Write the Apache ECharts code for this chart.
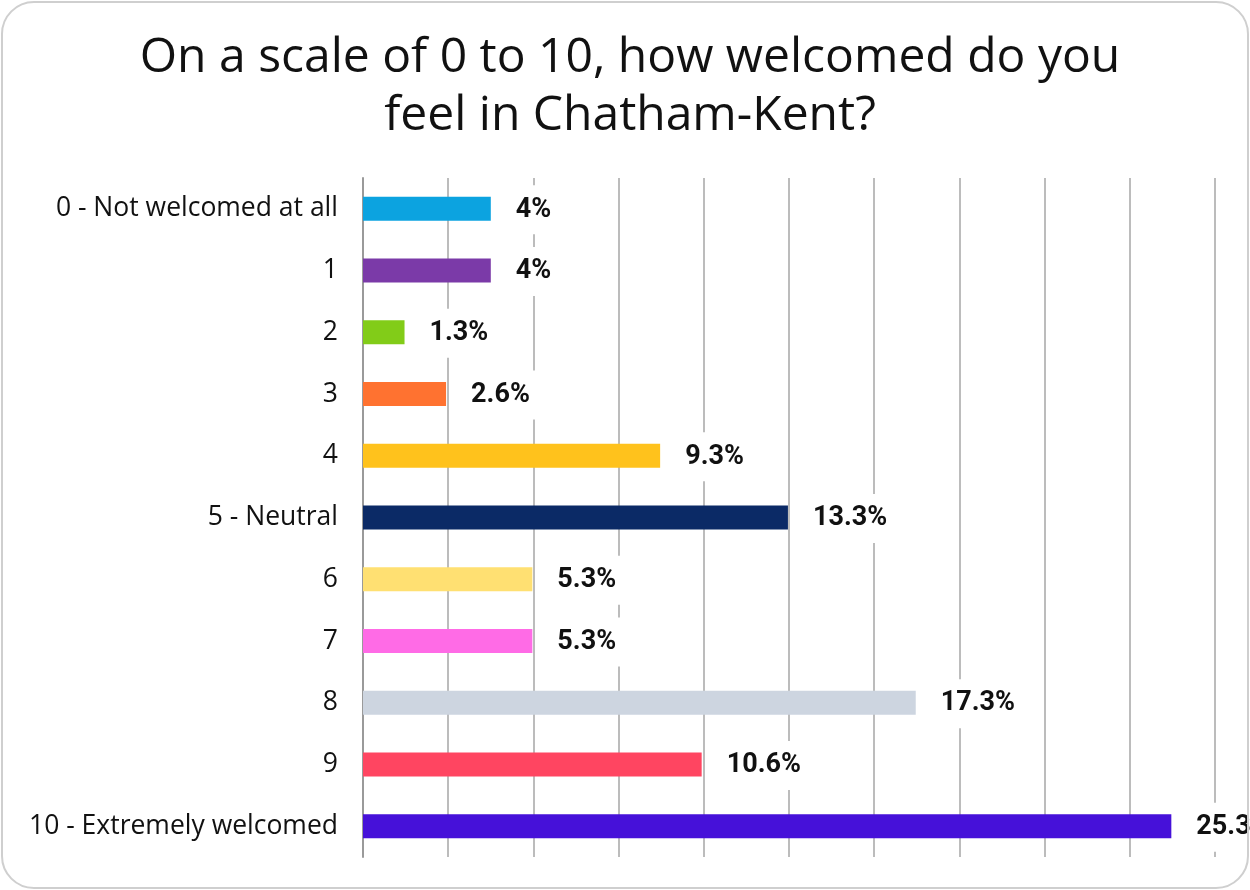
<!DOCTYPE html>
<html>
<head>
<meta charset="utf-8">
<script src="https://cdn.jsdelivr.net/npm/echarts@6/dist/echarts.min.js"></script>
<style>
  html, body { margin: 0; padding: 0; background: #fff; }
  #chart { width: 1250px; height: 890px; }
</style>
</head>
<body>
<div id="chart"></div>
<script>
// Survey answers (share of respondents, %)
const categories = [
  '0 - Not welcomed at all', '1', '2', '3', '4', '5 - Neutral',
  '6', '7', '8', '9', '10 - Extremely welcomed'
];
const percentages = [4, 4, 1.3, 2.6, 9.3, 13.3, 5.3, 5.3, 17.3, 10.6, 25.3];
const barColors = [
  '#0ca3e0', '#7b3aa8', '#82cc18', '#ff7230', '#ffc21c', '#0b2a66',
  '#ffe072', '#ff6be6', '#cdd5e0', '#ff4561', '#4611d9'
];
const titleText = 'On a scale of 0 to 10, how welcomed do you\nfeel in Chatham-Kent?';

const chart = echarts.init(document.getElementById('chart'));
chart.setOption({
  backgroundColor: '#fff',
  animation: false,
  title: {
    text: titleText,
    left: 625,
    top: 24,
    textAlign: 'center',
    textStyle: {
      fontFamily: 'Open Sans',
      fontWeight: 'normal',
      fontSize: 48,
      lineHeight: 58,
      color: '#111'
    }
  },
  graphic: [{
    type: 'rect',
    silent: true,
    z: 100,
    shape: { x: 2, y: 2, width: 1246, height: 886, r: 32 },
    style: { fill: 'none', stroke: '#cfcfcf', lineWidth: 2 }
  }],
  grid: { left: 363, right: 35, top: 178, bottom: 33, containLabel: false },
  xAxis: {
    type: 'value',
    min: 0,
    max: 80 / 3,
    interval: 8 / 3,
    axisLine: { show: false },
    axisTick: { show: false },
    axisLabel: { show: false },
    splitLine: { show: true, lineStyle: { color: '#bcbcbc', width: 2 } }
  },
  yAxis: {
    type: 'category',
    data: categories,
    inverse: true,
    axisLine: { show: true, lineStyle: { color: '#9a9a9a', width: 2 } },
    axisTick: { show: false },
    axisLabel: {
      margin: 25,
      fontFamily: 'Open Sans',
      fontSize: 26.5,
      color: '#111'
    }
  },
  series: [{
    type: 'bar',
    barWidth: 24,
    data: percentages.map((v, i) => ({ value: v, itemStyle: { color: barColors[i] } })),
    label: {
      show: true,
      position: 'right',
      distance: 19,
      offset: [0, 1],
      formatter: '{c}%',
      fontFamily: 'Roboto',
      fontWeight: 'bold',
      fontSize: 27,
      color: '#111',
      backgroundColor: '#fff',
      lineHeight: 28,
      padding: [16, 6, 5, 6]
    }
  }]
});
</script>
</body>
</html>
